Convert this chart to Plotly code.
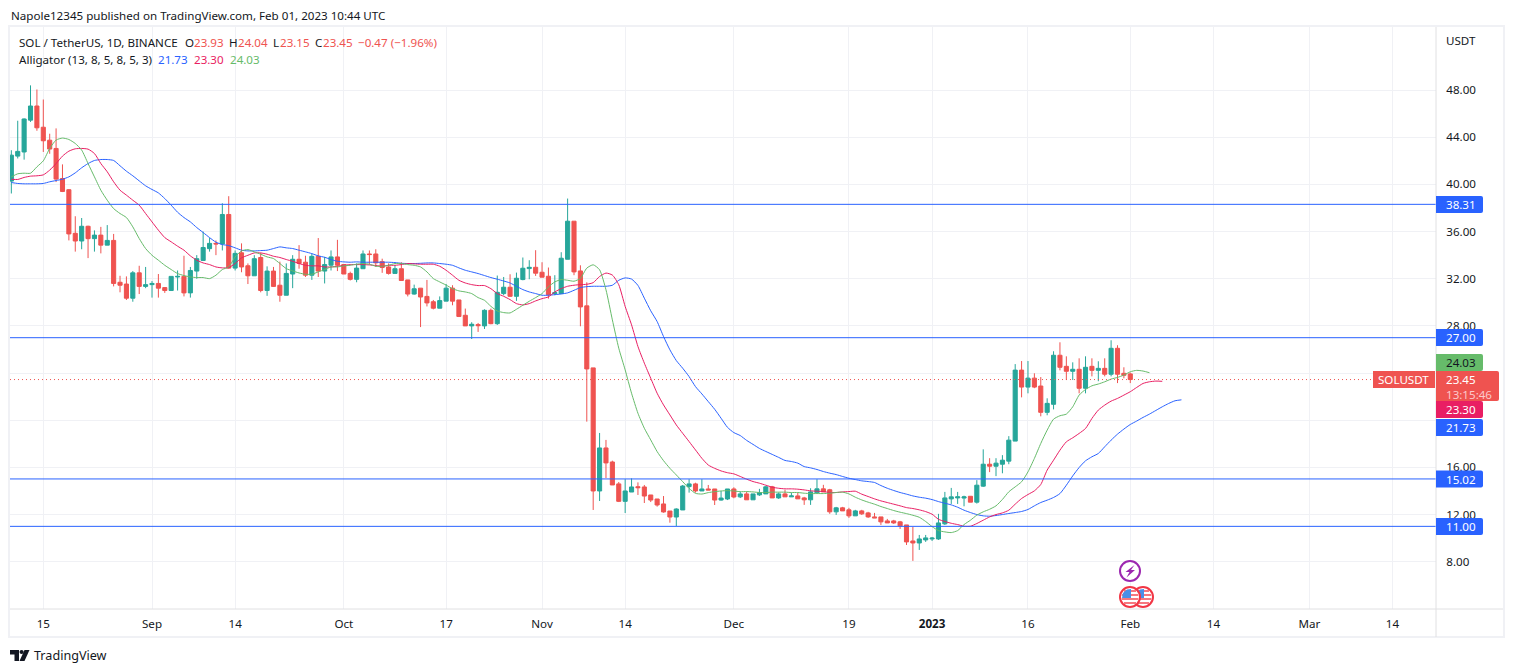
#!/usr/bin/env python3
"""SOL / USDT daily chart with Alligator, rebuilt from a TradingView snapshot."""
import math

import pandas as pd
import plotly.graph_objects as go

W, H = 1514, 672
PLOT_L, PLOT_R, PLOT_T, PLOT_B = 10, 1436, 27, 609

FONT = "Noto Sans"
FS = 11.6
INK = "#131722"
UP = "#26A69A"
DOWN = "#EF5350"
JAW_C = "#2962FF"
TEETH_C = "#E91E63"
LIPS_C = "#66BB6A"
GRID = "#F0F1F5"
AXIS = "#E0E0E2"

# daily candles, one row per month, first candle 2022-08-10
FIRST_DAY = "2022-08-10"
opens = [
    40.28, 42.4, 42.75, 45.45, 46.65, 44.85, 43.75, 43.05, 40.5, 39.55, 35.85, 35.2, 36.45, 35.4, 35.7, 34.85, 35.25, 31.7, 31.55, 30.35, 32.5, 31.35,
    31.5, 31.6, 31.25, 31, 32.15, 32.2, 30.8, 32.65, 33.55, 34.55, 35, 34.95, 37.45, 32.9, 34.2, 33.1, 32.25, 33.8, 31, 32.65, 31.45, 30.6, 32.4, 33.65, 33.4, 32.3, 33.9, 32.65, 33.15, 33.85,
    33.2, 32.45, 31.95, 32.85, 34.1, 34.1, 33.45, 33, 32.45, 32.85, 31.9, 30.7, 31.2, 30.5, 30.05, 29.5, 30.1, 31.2, 30.2, 28.9, 28, 28.11, 28, 29.32, 28.19, 30.74, 31.28, 30.51, 31.93, 32.86, 32.97,
    32.55, 32.21, 30.74, 30.74, 33.65, 36.88, 32.66, 29.7, 24.44, 14, 17.65, 16.46, 14.6, 13.12, 13.91, 14.36, 14.34, 13.66, 13.32, 12.9, 12.3, 11.79, 12.39, 14.37, 14.6, 14, 14.17, 14.17, 13.23, 13.32,
    14.17, 13.5, 13.75, 13.25, 13.67, 13.75, 14.35, 13.41, 13.75, 13.5, 13.58, 13.41, 13.25, 13.84, 14.18, 14.1, 12.23, 12.57, 12.4, 11.89, 12.31, 12.14, 11.8, 11.8, 11.46, 11.46, 11.38, 11.12, 9.76, 9.59, 9.85,
    9.93, 9.93, 11.21, 13.33, 13.41, 13.4, 13.55, 13.05, 14.41, 16.27, 16.1, 16.27, 16.53, 18.23, 24.25, 22.81, 23.57, 22.9, 20.67, 21.35, 25.51, 24.57, 24.15, 24.32, 22.71, 24.57, 24.23, 24.4, 23.9, 26.1, 23.98,
    23.93,
]
highs = [
    42.9, 45.4, 45.6, 48.4, 48.05, 47.2, 44.3, 44.75, 41.7, 39.6, 37.3, 37.15, 36.5, 36.1, 36.4, 36.55, 35.8, 32.25, 32.2, 32.65, 33.1, 33,
    31.8, 32.4, 31.25, 32.2, 32.7, 33.95, 33, 34, 36, 35.45, 35.25, 38.4, 39, 34.4, 35, 33.3, 34, 34.2, 33.05, 33, 33.45, 33.3, 34, 34.85, 33.95, 34.1, 35.45, 33.85, 34.4, 35.3,
    33.2, 32.6, 33.3, 34.4, 34.4, 34.5, 33.7, 33.3, 33.15, 33.4, 31.9, 31.5, 31.2, 31.9, 30.2, 30.5, 31.55, 31.45, 30.2, 29.47, 28.31, 28.25, 29.41, 29.47, 32.27, 32.15, 32.38, 32.52, 33.8, 33.57, 34.42,
    33.4, 32.95, 32.3, 34.25, 38.8, 36.88, 33.14, 31.7, 24.44, 18.92, 18.33, 16.57, 14.76, 15, 15.07, 14.73, 14.51, 13.66, 13.32, 13.57, 12.3, 12.53, 14.51, 15, 14.7, 15, 14.51, 14.17, 14, 14.17,
    14.31, 13.95, 13.95, 13.75, 14.18, 14.43, 14.43, 13.87, 14.1, 13.84, 13.84, 13.5, 14.23, 15, 14.52, 14.18, 12.65, 12.65, 12.57, 12.4, 12.4, 12.23, 12.14, 11.8, 11.63, 11.55, 11.46, 11.12, 10.95, 10.27, 10.27,
    10.1, 12.06, 13.92, 14.26, 13.92, 13.6, 13.55, 14.92, 17.53, 16.78, 16.78, 17.04, 18.65, 24.76, 25.02, 25.02, 23.98, 23.66, 21.86, 25.85, 26.61, 25.42, 24.91, 25.25, 25.42, 25.25, 25, 25.25, 26.78, 26.36, 24.49,
    24.04,
]
lows = [
    39.23, 42.2, 42.1, 45.3, 44.55, 42.75, 42.6, 40.2, 39.35, 35.25, 34.3, 34.5, 33.75, 34.3, 34.15, 34.85, 31.35, 30.85, 30.2, 30.05, 30.7, 31.2,
    30.4, 30.4, 30.8, 31, 31, 30.5, 30.4, 32, 33.55, 34.3, 34, 34.4, 32.85, 32.7, 32.55, 31.55, 32.25, 30.85, 30.55, 31.3, 30.05, 30.6, 31.2, 32.85, 32.15, 31.9, 32.15, 31.6, 32.7, 32.65,
    32.4, 31.85, 31.7, 32.85, 33.2, 33, 32.5, 32.35, 32.45, 31.85, 30.5, 30.65, 27.9, 29.65, 29.4, 29.5, 30.1, 29.75, 28.75, 28, 26.89, 27.49, 27.74, 28.14, 28.08, 30.6, 30.46, 30.12, 31.87, 31.96, 32.24,
    32.13, 30.31, 30.6, 30.74, 33.65, 32.3, 27.97, 19.88, 12.39, 13.15, 15.1, 14.51, 13.06, 12.13, 13.91, 13.66, 12.98, 13.06, 12.67, 12.16, 11.31, 11.03, 12.39, 13.86, 13.86, 14, 14.08, 12.81, 13.18, 13.23,
    13.38, 13.4, 13.25, 13.25, 13.58, 13.75, 13.41, 13.33, 13.5, 13.5, 13.33, 12.82, 12.82, 13.84, 13.92, 12.06, 11.97, 12.31, 11.72, 11.89, 11.97, 11.72, 11.72, 11.12, 11.29, 11.21, 10.78, 9.42, 8.07, 9, 9.68,
    9.76, 9.85, 11.12, 12.9, 12.9, 12.7, 13.05, 12.93, 14.35, 15.6, 15.26, 15.5, 16.27, 18.23, 21.94, 22.28, 22.72, 20.33, 20.42, 20.92, 24.23, 23.41, 23.41, 22.28, 22.28, 23.72, 23.31, 23.72, 23.72, 23.15, 23.56,
    23.15,
]
closes = [
    42.48, 42.8, 45.55, 46.65, 44.8, 43.7, 43, 40.45, 39.4, 35.8, 35.2, 36.45, 35.4, 35.7, 34.85, 35.25, 31.6, 31.45, 30.35, 32.5, 31.35, 31.5,
    31.6, 31.2, 31, 32.2, 32.2, 30.8, 32.7, 33.7, 34.65, 35, 34.95, 37.45, 32.9, 34.15, 33, 32.25, 33.7, 31, 32.65, 31.35, 30.6, 32.45, 33.65, 33.3, 32.3, 33.9, 32.65, 33.2, 33.85, 33.15,
    32.4, 31.95, 32.9, 34.1, 34.05, 33.35, 32.95, 32.45, 32.85, 31.85, 30.7, 31.15, 30.45, 29.95, 29.5, 30.15, 31.2, 30.1, 28.8, 28, 28.14, 28.02, 29.32, 28.19, 30.85, 31.28, 30.51, 32.04, 32.89, 32.97, 32.47,
    32.13, 30.65, 30.82, 33.74, 36.88, 32.58, 29.61, 24.35, 14, 17.65, 16.38, 14.51, 13.12, 14, 14.34, 14.28, 13.57, 13.23, 12.81, 12.22, 11.79, 12.47, 14.42, 14.6, 14, 14.17, 14.08, 13.23, 13.4, 14.17,
    13.49, 13.75, 13.25, 13.75, 13.84, 14.35, 13.41, 13.75, 13.5, 13.58, 13.33, 13.25, 13.92, 14.18, 13.92, 12.23, 12.57, 12.31, 11.89, 12.31, 12.06, 11.8, 11.72, 11.38, 11.29, 11.29, 11.04, 9.68, 9.59, 9.93, 10.02,
    10, 11.29, 13.41, 13.5, 13.5, 13.5, 13.05, 14.49, 16.27, 16.1, 16.36, 16.61, 18.31, 24.25, 22.81, 23.57, 22.81, 20.67, 21.43, 25.51, 24.49, 24.15, 24.32, 22.71, 24.49, 24.23, 24.4, 23.9, 26.1, 23.9, 23.81,
    23.45,
]

# alligator lines, same first day, they run past the last candle
jaw = [
    40.16, 40.08, 40.05, 40.05, 40.05, 40.08, 40.22, 40.33, 40.44, 40.64, 40.98, 41.41, 41.77, 42.03, 42.11, 42.11, 42.03, 41.58, 41.12, 40.73, 40.3, 39.88,
    39.57, 39.28, 38.8, 38.24, 37.64, 37.19, 36.82, 36.34, 35.92, 35.49, 35.1, 34.9, 34.81, 34.62, 34.42, 34.36, 34.36, 34.39, 34.42, 34.56, 34.7, 34.62, 34.56, 34.42, 34.28, 34.13, 33.94, 33.82, 33.63, 33.48,
    33.43, 33.4, 33.43, 33.4, 33.4, 33.4, 33.4, 33.4, 33.37, 33.31, 33.29, 33.29, 33.31, 33.34, 33.34, 33.29, 33.23, 33.14, 32.92, 32.72, 32.58, 32.44, 32.27, 32.1, 31.96, 31.81, 31.64, 31.36, 31.08, 30.88, 30.74,
    30.6, 30.6, 30.65, 30.71, 30.8, 31.02, 31.25, 31.33, 31.36, 31.36, 31.36, 31.45, 31.87, 32.07, 31.97, 31.43, 30.35, 29.28, 28.37, 27.1, 25.97, 25.06, 24.41, 23.7, 22.85, 22.23, 21.58, 20.93, 20.17, 19.4,
    18.95, 18.7, 18.29, 17.95, 17.61, 17.35, 17.1, 16.85, 16.59, 16.5, 16.36, 16.07, 15.96, 15.82, 15.65, 15.51, 15.39, 15.23, 15.08, 14.97, 14.86, 14.8, 14.72, 14.46, 14.23, 14.04, 13.87, 13.73, 13.58, 13.47, 13.39,
    13.27, 13.1, 12.96, 12.82, 12.62, 12.37, 12.17, 12, 11.89, 11.86, 11.92, 12, 12.09, 12.17, 12.26, 12.43, 12.74, 13.02, 13.22, 13.45, 13.78, 14.49, 15.28, 15.99, 16.56, 16.9, 17.18, 17.75, 18.31, 18.82, 19.25,
    19.64, 19.93, 20.24, 20.52, 20.83, 21.14, 21.42, 21.65, 21.73,
]
teeth = [
    40.44, 40.42, 40.59, 40.7, 40.73, 40.81, 41.21, 41.77, 42.4, 42.82, 43.02, 43.05, 42.99, 42.62, 41.77, 41.07, 40.22, 39.51, 39.09, 38.66, 38.24, 37.53,
    36.82, 36.12, 35.49, 35.13, 34.76, 34.42, 33.94, 33.57, 33.34, 33.2, 33, 32.92, 32.95, 33.29, 33.77, 33.99, 34.19, 34.19, 34.08, 33.91, 33.8, 33.63, 33.48, 33.29, 33.14, 33.09, 33.09, 33, 33, 33.06,
    33.14, 33.2, 33.2, 33.2, 33.17, 33.12, 33.06, 33.14, 33.14, 33.2, 33.29, 33.26, 33.23, 33.23, 33.23, 33.06, 32.72, 32.3, 31.87, 31.64, 31.5, 31.42, 31.42, 31.16, 30.74, 30.51, 30.23, 29.89, 29.78, 29.89, 30.12,
    30.31, 30.46, 30.88, 31.16, 31.36, 31.45, 31.5, 31.53, 31.67, 32.19, 32.48, 32.31, 31.49, 29.65, 28.09, 26.25, 24.84, 23.56, 22.29, 21.3, 20.45, 19.6, 18.89, 18.19, 17.48, 16.77, 16.2, 15.92, 15.7, 15.55,
    15.45, 15.23, 15, 14.8, 14.66, 14.49, 14.32, 14.23, 14.18, 14.18, 14.15, 14.09, 14.01, 13.98, 13.95, 13.87, 13.87, 13.92, 13.95, 13.98, 13.73, 13.53, 13.33, 13.16, 13.02, 12.88, 12.74, 12.59, 12.51, 12.4, 12.25,
    12.03, 11.6, 11.41, 11.26, 11.15, 11.01, 11.01, 11.24, 11.52, 11.8, 12, 12.14, 12.37, 12.88, 13.36, 13.7, 14.01, 14.55, 15.77, 16.61, 17.46, 18.17, 18.51, 18.88, 19.3, 20.15, 20.86, 21.28, 21.62, 21.85, 22.13,
    22.42, 22.78, 23.12, 23.26, 23.32, 23.3,
]
lips = [
    40.64, 40.9, 40.95, 40.95, 41.49, 42, 43.05, 43.76, 43.93, 43.81, 43.47, 42.91, 41.77, 40.64, 39.51, 38.66, 37.95, 37.53, 37.19, 36.4, 35.41, 34.56,
    33.99, 33.57, 33.14, 32.78, 32.44, 32.27, 32.15, 32.1, 32.1, 32.01, 32.3, 32.78, 33, 33.85, 34.36, 34.47, 34.28, 34.08, 33.85, 33.71, 33.29, 32.86, 32.66, 32.49, 32.38, 32.38, 32.58, 32.78, 33, 33,
    33.09, 33.14, 33.23, 33.29, 33.23, 33.06, 33.06, 33.14, 33.29, 33.29, 33.2, 33.14, 33, 32.58, 32.01, 31.73, 31.46, 31.16, 30.97, 30.88, 30.74, 30.4, 30.17, 29.66, 29.27, 29.13, 29.1, 29.41, 29.75, 30.09, 30.4,
    30.74, 31.31, 31.73, 31.93, 31.87, 31.79, 32.03, 32.9, 33.18, 32.76, 31.06, 28.51, 26.11, 24.27, 22.29, 20.59, 19.32, 18.33, 17.34, 16.57, 15.92, 15.36, 14.79, 14.22, 13.8, 13.74, 13.86, 13.94, 14, 14.03,
    14, 13.94, 13.95, 13.92, 13.87, 13.87, 13.9, 13.9, 13.9, 13.87, 13.87, 13.81, 13.78, 13.78, 13.78, 13.81, 13.87, 13.9, 13.75, 13.47, 13.24, 13.05, 12.88, 12.68, 12.51, 12.34, 12.2, 12.08, 11.94, 11.77, 11.41,
    10.98, 10.64, 10.53, 10.47, 10.64, 11.15, 11.52, 11.95, 12.23, 12.45, 12.74, 13.28, 13.93, 14.35, 14.78, 15.62, 16.76, 18.03, 19.16, 20.09, 20.38, 20.52, 21.14, 22.13, 22.61, 22.92, 23.07, 23.26, 23.49, 23.63, 23.83,
    24.11, 24.23, 24.17, 24.03,
]
assert len(opens) == len(highs) == len(lows) == len(closes) == 176, (len(opens), len(highs), len(lows), len(closes))
assert (len(jaw), len(teeth), len(lips)) == (184, 181, 179), (len(jaw), len(teeth), len(lips))

levels = [38.31, 27.00, 15.02, 11.00]
last_price = 23.45

x_tick_days = ["2022-08-15", "2022-09-01", "2022-09-14", "2022-10-01", "2022-10-17", "2022-11-01", "2022-11-14",
               "2022-12-01", "2022-12-19", "2023-01-01", "2023-01-16", "2023-02-01", "2023-02-14", "2023-03-01", "2023-03-14"]
x_tick_text = ["15", "Sep", "14", "Oct", "17", "Nov", "14", "Dec", "19", "<b>2023</b>", "16", "Feb", "14", "Mar", "14"]
y_ticks = [8, 12, 16, 20, 24, 28, 32, 36, 40, 44, 48]
y_tick_text = ["8.00", "12.00", "16.00", "", "", "28.00", "32.00", "36.00", "40.00", "44.00", "48.00"]


def px(x):
    return (x - PLOT_L) / (PLOT_R - PLOT_L)


def py(y):
    return 1 - (y - PLOT_T) / (PLOT_B - PLOT_T)


def text_at(x, y, text, color=INK, size=FS, anchor="left"):
    return dict(xref="paper", yref="paper", x=px(x), y=py(y), text=text, showarrow=False, xanchor=anchor,
                yanchor="middle", font=dict(family=FONT, size=size, color=color), borderpad=0)


def badge_bg(x0, x1, y0, y1, fill):
    # price scale tag, square on the scale side and rounded on the outer side
    r = 2
    path = (f"M {px(x0):.6f},{py(y0):.6f} L {px(x1 - r):.6f},{py(y0):.6f} Q {px(x1):.6f},{py(y0):.6f} {px(x1):.6f},{py(y0 + r):.6f} "
            f"L {px(x1):.6f},{py(y1 - r):.6f} Q {px(x1):.6f},{py(y1):.6f} {px(x1 - r):.6f},{py(y1):.6f} L {px(x0):.6f},{py(y1):.6f} Z")
    return dict(type="path", xref="paper", yref="paper", path=path, fillcolor=fill, line=dict(width=0), layer="above")


def rect_px(x0, y0, x1, y1, fill, line=None, width=0):
    return dict(type="rect", xref="paper", yref="paper", x0=px(x0), x1=px(x1), y0=py(y0), y1=py(y1),
                fillcolor=fill, line=dict(color=line or fill, width=width), layer="above")


def circle_px(cx, cy, r, fill, line, width):
    return dict(type="circle", xref="paper", yref="paper", x0=px(cx - r), x1=px(cx + r), y0=py(cy - r), y1=py(cy + r),
                fillcolor=fill, line=dict(color=line, width=width), layer="above")


def poly_px(points, fill):
    path = "M " + " L ".join(f"{px(a):.6f},{py(b):.6f}" for a, b in points) + " Z"
    return dict(type="path", xref="paper", yref="paper", path=path, fillcolor=fill, line=dict(width=0), layer="above")


def flag_shapes(cx, cy):
    # small US flag coin of the economic events row
    r = 8.5
    out = [circle_px(cx, cy, 10, "white", "#F23645", 2)]
    for dy in (-7, -3, 1, 5):
        half = math.sqrt(max(r * r - (dy + 1) ** 2, 0))
        out.append(rect_px(cx - half, cy + dy, cx + half, cy + dy + 2, "#F6787F"))
    out.append(poly_px([(cx - 7, cy - 4), (cx - 3, cy - 7.5), (cx + 1, cy - 8), (cx + 1, cy + 1), (cx - 8, cy + 1)], "#4A8FE8"))
    return out


days = pd.date_range(FIRST_DAY, periods=len(opens), freq="D")

fig = go.Figure()
fig.add_trace(go.Candlestick(
    x=days, open=opens, high=highs, low=lows, close=closes,
    increasing=dict(line=dict(color=UP, width=1), fillcolor=UP),
    decreasing=dict(line=dict(color=DOWN, width=1), fillcolor=DOWN),
    whiskerwidth=0, showlegend=False, hoverinfo="skip",
))
for series, color in ((jaw, JAW_C), (teeth, TEETH_C), (lips, LIPS_C)):
    fig.add_trace(go.Scatter(
        x=pd.date_range(FIRST_DAY, periods=len(series), freq="D"), y=series, mode="lines",
        line=dict(color=color, width=1, shape="spline", smoothing=0.6), showlegend=False, hoverinfo="skip",
    ))

shapes = []
for lvl in levels:
    shapes.append(dict(type="line", xref="paper", yref="y", x0=0, x1=1, y0=lvl, y1=lvl,
                       line=dict(color=JAW_C, width=1), layer="above"))
shapes.append(dict(type="line", xref="paper", yref="y", x0=0, x1=px(1373), y0=last_price, y1=last_price,
                   line=dict(color=DOWN, width=1, dash="1px,3px"), layer="above"))

# outer frame and pane separators
shapes.append(dict(type="rect", xref="paper", yref="paper", x0=px(9), x1=px(1504), y0=py(637), y1=py(26),
                   line=dict(color=GRID, width=2), layer="above"))
shapes.append(dict(type="line", xref="paper", yref="paper", x0=1, x1=1, y0=py(27), y1=py(637),
                   line=dict(color=AXIS, width=1), layer="above"))
shapes.append(dict(type="line", xref="paper", yref="paper", x0=0, x1=px(1503), y0=0, y1=0,
                   line=dict(color=AXIS, width=1), layer="above"))

# event icons
shapes.append(circle_px(1130, 571, 10, "white", "#9C27B0", 2))
shapes.append(poly_px([(1134.5, 565), (1125.5, 572), (1129.5, 572), (1126.5, 577.5), (1135, 570), (1131, 570)], "#9C27B0"))
shapes += flag_shapes(1143, 597)
shapes += flag_shapes(1130, 597)

# TradingView logo
shapes.append(poly_px([(10, 650), (19, 650), (19, 661), (14.5, 661), (14.5, 654.5), (10, 654.5)], INK))
shapes.append(circle_px(21.6, 652, 2.1, INK, INK, 0))
shapes.append(poly_px([(24.5, 650), (29.5, 650), (24.5, 661), (19.5, 661)], INK))

anns = [
    text_at(10, 15, "Napole12345 published on TradingView.com, Feb 01, 2023 10:44 UTC"),
    text_at(18, 42, "SOL / TetherUS, 1D, BINANCE"),
    text_at(184, 42, "O"), text_at(193, 42, "23.93", DOWN),
    text_at(228, 42, "H"), text_at(237, 42, "24.04", DOWN),
    text_at(272, 42, "L"), text_at(279, 42, "23.15", DOWN),
    text_at(314, 42, "C"), text_at(322, 42, "23.45", DOWN),
    text_at(357, 42, "−0.47 (−1.96%)", DOWN),
    text_at(18, 59, "Alligator (13, 8, 5, 8, 5, 3)"),
    text_at(157, 59, "21.73", JAW_C), text_at(193, 59, "23.30", TEETH_C), text_at(229, 59, "24.03", LIPS_C),
    text_at(1445, 40, "USDT"),
    text_at(33, 655, "TradingView", size=12.6),
]

# price scale tags, the stacked ones sit away from their own price
tags = [(1436, 1483, 354, 371, "24.03", LIPS_C, INK),
        (1436, 1483, 401, 418, "23.30", TEETH_C, "white"),
        (1436, 1483, 419, 436, "21.73", JAW_C, "white")]
for lvl, top in zip(levels, (196, 329, 470.5, 518)):
    tags.append((1436, 1483, top, top + 17, f"{lvl:.2f}", JAW_C, "white"))
shapes.append(rect_px(1373, 371, 1435, 388, DOWN))
shapes.append(badge_bg(1436, 1499, 371, 401, DOWN))
anns.append(text_at(1377, 379.5, "SOLUSDT", "white"))
anns.append(text_at(1445, 379, f"{last_price:.2f}", "white"))
anns.append(text_at(1445, 394, "13:15:46", "#FBC9CB"))
for x0, x1, y0, y1, label, bg, fg in tags:
    shapes.append(badge_bg(x0, x1, y0, y1, bg))
    anns.append(text_at(1445, (y0 + y1) / 2, label, fg))

fig.update_layout(
    width=W, height=H, margin=dict(l=PLOT_L, r=W - PLOT_R, t=PLOT_T, b=H - PLOT_B, autoexpand=False),
    paper_bgcolor="white", plot_bgcolor="white", boxgap=0.2, boxgroupgap=0.2, hovermode=False,
    font=dict(family=FONT, size=FS, color=INK),
    shapes=shapes, annotations=anns,
    xaxis=dict(
        type="date", range=["2022-08-09 19:00", "2023-03-20 19:30"], rangeslider=dict(visible=False),
        tickmode="array", tickvals=x_tick_days, ticktext=x_tick_text, showgrid=True, gridcolor=GRID, gridwidth=1,
        ticks="outside", ticklen=4, tickcolor="rgba(0,0,0,0)", zeroline=False, showline=False,
        tickfont=dict(family=FONT, size=FS, color=INK), tickangle=0,
    ),
    yaxis=dict(
        side="right", range=[3.99, 53.35], tickmode="array", tickvals=y_ticks, ticktext=y_tick_text,
        showgrid=True, gridcolor=GRID, gridwidth=1, ticks="outside", ticklen=7, tickcolor="rgba(0,0,0,0)",
        zeroline=False, showline=False, tickfont=dict(family=FONT, size=FS, color=INK),
    ),
)

fig.write_html("out.html", config=dict(displayModeBar=False), post_script="document.body.style.margin='0';")
